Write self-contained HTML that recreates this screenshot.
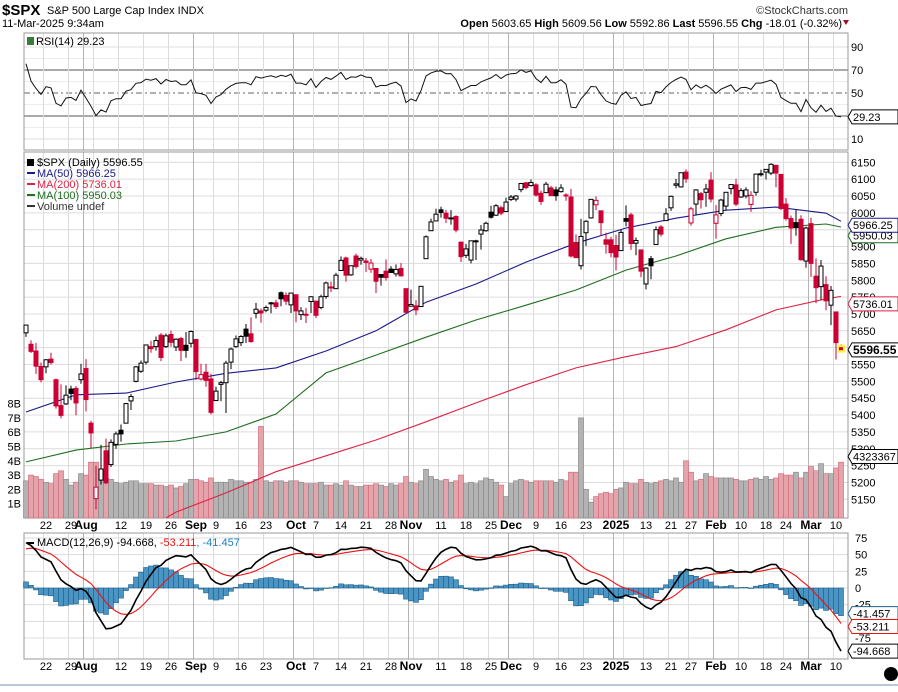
<!DOCTYPE html>
<html><head><meta charset="utf-8">
<style>
body{margin:0;background:#fff;width:898px;height:687px;overflow:hidden;font-family:"Liberation Sans",Arial,sans-serif;}
svg text{font-family:"Liberation Sans",Arial,sans-serif;}
</style></head>
<body>
<svg id="chart" width="898" height="687" viewBox="0 0 898 687" xmlns="http://www.w3.org/2000/svg">
<rect x="0" y="0" width="898" height="687" fill="#fff"/>
<text x="2" y="15" font-size="15" font-weight="bold" fill="#000">$SPX</text>
<text x="47" y="14" font-size="11" fill="#000">S&amp;P 500 Large Cap Index  INDX</text>
<text x="2" y="27" font-size="11" fill="#000">11-Mar-2025 9:34am</text>
<text x="848" y="14" font-size="11" fill="#333" text-anchor="end">©StockCharts.com</text>
<text x="842" y="27" font-size="11" fill="#000" text-anchor="end"><tspan font-weight="bold">Open</tspan> 5603.65  <tspan font-weight="bold">High</tspan> 5609.56  <tspan font-weight="bold">Low</tspan> 5592.86  <tspan font-weight="bold">Last</tspan> 5596.55  <tspan font-weight="bold">Chg</tspan> -18.01 (-0.32%)</text>
<polygon points="843,20 849,20 846,25" fill="#a0102a"/>
<g id="grid"></g>
<g id="panels"></g>
<g id="marks"></g>
<g id="labels"></g>
<circle cx="891" cy="674" r="7" fill="#000"/>
<line x1="0" y1="685" x2="898" y2="685" stroke="#b8c8d8" stroke-width="2"/>
</svg>
<script>
// ---- data ----
const warmupCloses=[5308,5321,5307,5267,5305,5306,5267,5235,5278,5283,5291,5354,5352,5347,5361,5375,5421,5433,5431,5473,5487,5473,5464,5448,5469,5478,5482,5460,5475,5509,5537,5567,5572,5577,5633,5585,5615,5631];
const opens=[5644,5610,5590,5544,5543,5566,5505,5428,5433,5477,5479,5505,
5538,5376,5152,5207,5294,5253,5313,5355,5376,5442,5500,5530,5557,5603,5603,5637,5603,5639,5602,5627,5607,5613,
5624,5507,5527,5507,5443,5491,5496,5557,5603,5615,5655,5641,5702,5709,5711,5733,5733,5763,5755,5727,
5757,5698,5699,5737,5738,5719,5752,5778,5775,5829,5866,5816,5872,5860,5857,5833,5835,5817,5827,5833,5819,5835,5775,
5723,5724,5722,5864,5947,5976,6009,5999,5985,5989,5913,5874,5860,5917,5937,5947,6002,5993,6015,6004,
6040,6041,6069,6089,6081,6083,6058,6060,6074,6068,6063,6053,6047,5912,5843,5941,5985,6024,6006,5920,5920,
5903,5888,5983,5994,5910,5890,5789,5864,5906,5958,5977,6015,6082,6077,6121,5970,6026,6057,6061,6097,
5969,5998,6020,6072,6083,6047,6050,6025,6061,6116,6121,6118,6141,6114,6026,5983,5971,5981,5857,
5968,5812,5781,5787,5726,5706,5603];
const highs=[5667,5622,5614,5556,5566,5585,5508,5491,5488,5487,5486,5552,
5566,5383,5250,5312,5330,5328,5351,5372,5436,5463,5546,5562,5608,5620,5633,5643,5642,5651,5628,5632,5646,5651,
5626,5552,5552,5523,5484,5501,5561,5600,5636,5637,5670,5690,5733,5716,5725,5736,5742,5767,5764,5763,
5758,5720,5718,5753,5739,5757,5796,5796,5822,5871,5870,5843,5879,5870,5866,5863,5836,5817,5862,5842,5847,5851,5775,
5772,5741,5783,5933,5983,6012,6018,6009,6008,5993,5915,5908,5918,5920,5964,5974,6021,6026,6021,6045,
6053,6053,6089,6092,6099,6088,6066,6092,6080,6078,6085,6058,6071,5936,5982,5978,6040,6049,6007,5941,5929,
5935,5949,6022,6000,5927,5890,5839,5872,5960,5964,6014,6051,6101,6119,6129,6018,6070,6062,6086,6121,
6023,6042,6062,6084,6101,6073,6076,6064,6116,6128,6130,6147,6142,6114,6044,5992,6009,5993,5959,
5986,5865,5860,5812,5783,5706,5610];
const lows=[5632,5584,5522,5497,5524,5550,5419,5390,5430,5444,5399,5493,
5411,5302,5120,5194,5195,5246,5300,5321,5376,5415,5497,5525,5550,5585,5591,5560,5599,5603,5590,5560,5570,5601,
5504,5503,5484,5402,5442,5441,5406,5536,5600,5605,5614,5615,5687,5674,5705,5702,5715,5723,5727,5703,
5675,5682,5673,5703,5688,5714,5745,5765,5775,5829,5796,5813,5835,5846,5824,5822,5762,5784,5799,5823,5811,5811,5703,
5723,5696,5722,5864,5947,5976,5986,5970,5965,5942,5854,5866,5850,5860,5891,5944,5983,5991,5993,6003,
6035,6034,6061,6070,6078,6048,6024,6058,6050,6036,6060,6036,5867,5866,5832,5902,5983,6008,5932,5879,5868,
5829,5888,5960,5890,5874,5809,5773,5803,5906,5930,5977,6006,6073,6075,6089,5962,5994,6013,6018,6031,
5923,5990,6007,6055,6020,6044,6043,6003,6051,6108,6099,6112,6076,6008,5977,5908,5932,5858,5837,
5810,5732,5742,5711,5667,5565,5593];
const closes=[5667,5589,5545,5505,5564,5556,5427,5399,5459,5464,5436,5522,
5446,5347,5186,5240,5199,5319,5344,5344,5434,5455,5543,5554,5608,5597,5621,5571,5635,5616,5625,5592,5592,5648,
5529,5520,5503,5408,5471,5496,5554,5596,5626,5633,5634,5618,5714,5703,5719,5732,5722,5745,5738,5762,
5709,5709,5699,5751,5696,5751,5792,5780,5815,5859,5815,5843,5841,5865,5853,5851,5797,5809,5808,5823,5832,5813,5705,
5728,5712,5782,5929,5973,5996,6001,5984,5985,5949,5870,5893,5917,5917,5949,5969,5987,6021,5999,6032,
6047,6050,6087,6075,6090,6053,6034,6085,6051,6051,6074,6051,5872,5867,5930,5975,6040,6037,5971,5907,5882,
5869,5942,5975,5909,5918,5827,5836,5843,5950,5937,5997,6049,6086,6119,6101,6012,6068,6039,6071,6041,
5994,6038,6061,6084,6026,6066,6068,6052,6115,6115,6129,6144,6118,6013,5983,5955,5956,5861,5955,
5850,5778,5842,5739,5770,5615,5597];
const volumes=[2.6,3.0,2.9,2.7,2.5,2.4,3.1,3.3,2.7,2.3,2.5,3.1,
3.0,3.9,3.9,3.0,2.8,2.7,2.5,2.4,2.5,2.6,2.6,2.4,2.4,2.4,2.3,2.3,2.2,2.3,2.1,2.2,2.4,2.7,
2.7,2.6,2.5,2.8,2.5,2.5,2.5,2.7,2.6,2.6,2.5,2.5,2.7,6.4,2.6,2.5,2.6,2.6,2.5,2.6,
2.6,2.5,2.4,2.4,2.4,2.5,2.3,2.3,2.4,2.3,2.6,2.3,2.2,2.2,2.3,2.3,2.4,2.3,2.2,2.4,2.3,2.4,2.9,
2.5,2.4,2.6,3.4,2.9,2.7,2.6,2.7,2.5,2.6,3.0,2.4,2.5,2.4,2.6,2.8,2.7,2.5,2.3,1.5,
2.4,2.6,2.7,2.6,2.5,2.6,2.6,2.6,2.6,2.5,2.7,2.6,3.2,3.2,7.0,2.0,1.1,1.5,1.7,1.8,1.7,
2.0,2.1,2.5,2.4,2.4,2.7,2.5,2.4,2.5,2.6,2.7,2.6,2.8,2.5,4.0,3.2,2.6,2.7,3.1,2.9,
2.8,2.8,2.8,2.8,2.7,2.6,2.6,2.7,2.8,2.7,2.9,2.7,2.8,3.1,3.0,3.0,3.2,2.8,3.2,
3.6,3.3,3.8,3.1,3.1,3.5,3.9];
const maIdx=[0,10,20,30,40,50,60,70,80,90,100,110,120,130,140,150,160,163];
const ma50=[5409,5460,5465,5498,5524,5540,5590,5650,5735,5789,5854,5910,5955,5984,6008,6017,5999,5975];
const ma100=[5261,5296,5314,5323,5350,5403,5525,5578,5631,5682,5726,5771,5830,5872,5923,5957,5967,5958];
const ma200Idx=[28,30,40,50,60,70,80,90,100,110,120,130,140,150,160,163];
const ma200=[5095,5112,5169,5232,5279,5326,5380,5436,5490,5540,5573,5603,5653,5712,5745,5752];
const dateLabels=["22","29","Aug","12","19","26","Sep","9","16","23","Oct","7","14","21","28","Nov","11","18","25","Dec","9","16","23","2025","13","21","27","Feb","10","18","24","Mar","10"];
const dateIdx=[4,9,12,19,24,29,34,38,43,48,54,58,63,68,73,77,83,88,93,97,102,107,112,118,124,129,133,138,143,148,152,157,162];
const monthLabels=["Aug","Sep","Oct","Nov","Dec","2025","Feb","Mar"];
const extraWeekIdx=[14,78,120];
const priceTicks=[5150,5200,5250,5300,5350,5400,5450,5500,5550,5600,5650,5700,5750,5800,5850,5900,5950,6000,6050,6100,6150];
const volTicks=[1,2,3,4,5,6,7,8];
const rsiTicks=[90,70,50,30,10];
const macdTicks=[75,50,25,0,-25,-50,-75];

// ---- scales ----
const X0=24,X1=848;
const xOf=i=>26+5*i;
const yP=p=>162.3+(6150-p)*0.337;
const yV=v=>518-v*14.3;
const yR=r=>70+(70-r)*1.15;
const yM=m=>588-m*0.667;

const NS="http://www.w3.org/2000/svg";
function mk(tag,attrs,parent,text){const e=document.createElementNS(NS,tag);for(const k in attrs)e.setAttribute(k,attrs[k]);if(text!==undefined)e.textContent=text;parent.appendChild(e);return e;}
const G=document.getElementById('grid'),P=document.getElementById('panels'),M=document.getElementById('marks'),L=document.getElementById('labels');

// ---- indicators from closes ----
const all=warmupCloses.concat(closes);const W=warmupCloses.length;
let ag=0,al=0;const rsiAll=[];
for(let i=1;i<all.length;i++){const d=all[i]-all[i-1];const g=d>0?d:0,l=d<0?-d:0;
 if(i<=14){ag+=g/14;al+=l/14;}else{ag=(ag*13+g)/14;al=(al*13+l)/14;}
 rsiAll[i]=al===0?100:100-100/(1+ag/al);}
const rsi=closes.map((c,i)=>rsiAll[W+i]);
let e12=all[0],e26=all[0];const macdAll=[];
all.forEach((c,i)=>{e12=e12+(c-e12)*2/13;e26=e26+(c-e26)*2/27;macdAll[i]=e12-e26;});
let sg=macdAll[0];const sigAll=[];
macdAll.forEach((m,i)=>{sg=sg+(m-sg)*0.2;sigAll[i]=sg;});
const macd=closes.map((c,i)=>macdAll[W+i]);
const signal=closes.map((c,i)=>sigAll[W+i]);
const hist=macd.map((m,i)=>m-signal[i]);

// ---- panel frames & grids ----
const panels=[["rsi-panel",33,150],["price-panel",152,518],["macd-panel",533,659]];
function vgrid(top,bot){
 const weeks=dateIdx.concat(extraWeekIdx);
 weeks.forEach((idx,k)=>{const isMonth=k<dateIdx.length&&monthLabels.includes(dateLabels[k]);
  const ln=mk('line',{x1:xOf(idx)-2.5,x2:xOf(idx)-2.5,y1:top,y2:bot,stroke:isMonth?'#b4b4b4':'#dcdcdc','stroke-width':1},G);
  
  });
}
// RSI grid
rsiTicks.forEach(t=>{const y=yR(t);
 const ln=mk('line',{x1:X0,x2:X1,y1:y,y2:y,stroke:(t===70||t===30)?'#555':(t===50?'#666':'#dcdcdc'),'stroke-width':1,'stroke-dasharray':t===50?'6,3,2,3':'none'},G);
 
 
 if(t!==30){const tx=mk('text',{x:851,y:y+4,'font-size':11,fill:'#000'},L,String(t));
 
 }
});
[80,60,40,20].forEach(t=>{const ln=mk('line',{x1:X0,x2:X1,y1:yR(t),y2:yR(t),stroke:'#ececec'},G);
 
 });
vgrid(33,150);
// price grid
priceTicks.forEach(t=>{const y=yP(t);
 const ln=mk('line',{x1:X0,x2:X1,y1:y,y2:y,stroke:'#dcdcdc'},G);
 
 
 const tx=mk('text',{x:851,y:y+4,'font-size':11,fill:'#000'},L,String(t));
 
 
});
vgrid(152,518);
volTicks.forEach(t=>{const tx=mk('text',{x:21,y:yV(t)+4,'font-size':11,fill:'#000','text-anchor':'end'},L,t+'B');
 
 });
// macd grid
macdTicks.forEach(t=>{const y=yM(t);
 const ln=mk('line',{x1:X0,x2:X1,y1:y,y2:y,stroke:'#dcdcdc'},G);
 
 
 if(t!==-50){const tx=mk('text',{x:855,y:y+4,'font-size':11,fill:'#000'},L,String(t));
 
 }
});
vgrid(533,659);
panels.forEach(([n,t,b])=>{const r=mk('rect',{x:X0,y:t,width:X1-X0,height:b-t,fill:'none',stroke:'#999','stroke-width':1},P);
 
 });

// date axes
[525,666].forEach((yy,row)=>{dateLabels.forEach((lab,k)=>{const isM=monthLabels.includes(lab);
 const tx=mk('text',{x:xOf(dateIdx[k]),y:yy+4,'font-size':isM?12:11,'font-weight':isM?'bold':'normal',fill:'#000','text-anchor':'middle'},L,lab);
 
 });});

// ---- volume ----
volumes.forEach((v,i)=>{const down=i>0&&closes[i]<closes[i-1];
 const r=mk('rect',{x:xOf(i)-2.5,y:yV(v),width:5,height:518-yV(v),fill:down?'#e5a4ac':'#b3b3b3',stroke:down?'#d0707e':'#8c8c8c','stroke-width':0.7},M);
 
 });

// ---- moving averages ----
function maLine(idx,vals,color,name){const pts=idx.map((ix,k)=>xOf(ix)+','+yP(vals[k]).toFixed(1)).join(' ');
 const pl=mk('polyline',{points:pts,fill:'none',stroke:color,'stroke-width':1.1},M);
 
 }
maLine(ma200Idx,ma200,'#dd2244','ma200-line');
maLine(maIdx,ma100,'#1f6e1f','ma100-line');
maLine(maIdx,ma50,'#1a1a8c','ma50-line');

// ---- candles ----
closes.forEach((c,i)=>{const o=opens[i],h=highs[i],lo=lows[i];
 const down=i>0&&c<closes[i-1];const col=down?'#cc0033':'#000';
 const x=xOf(i);
 const w=mk('line',{x1:x,x2:x,y1:yP(h),y2:yP(lo),stroke:col,'stroke-width':1},M);
 
 
 const top=yP(Math.max(o,c)),bh=Math.max(1,Math.abs(yP(o)-yP(c)));
 const b=mk('rect',{x:x-2,y:top,width:4,height:bh,fill:c<o?col:'#fff',stroke:col,'stroke-width':1},M);
 
 });
const last=closes.length-1;
const hl=mk('rect',{x:xOf(last)-3,y:yP(closes[last])-4,width:7,height:8,fill:'#ffee44'},M);


const lc=mk('rect',{x:xOf(last)-2,y:yP(closes[last])-1.5,width:4,height:3,fill:'#cc0033'},M);



// ---- RSI line ----
const rsiLine=mk('polyline',{points:rsi.map((r,i)=>xOf(i)+','+yR(r).toFixed(1)).join(' '),fill:'none',stroke:'#111','stroke-width':1},M);



// ---- MACD ----
hist.forEach((h,i)=>{const y0=yM(0),y1=yM(h);
 const r=mk('rect',{x:xOf(i)-2.5,y:Math.min(y0,y1),width:5,height:Math.max(0.5,Math.abs(y1-y0)),fill:'#4a95c4',stroke:'#1e5f8c','stroke-width':0.6},M);
 
 });
const sl=mk('polyline',{points:signal.map((s,i)=>xOf(i)+','+yM(s).toFixed(1)).join(' '),fill:'none',stroke:'#ee1111','stroke-width':1.1},M);


const ml=mk('polyline',{points:macd.map((s,i)=>xOf(i)+','+yM(s).toFixed(1)).join(' '),fill:'none',stroke:'#000','stroke-width':1.6},M);



// ---- value tags on right axis ----
function tag(y,text,color,bold,name){const g=mk('g',{},L);
 
 
 const w=bold?47:46;
 mk('polygon',{points:`848,${y} 852,${y-7} ${852+w},${y-7} ${852+w},${y+7} 852,${y+7}`,fill:'#fff',stroke:color,'stroke-width':1},g);
 mk('text',{x:853,y:y+4,'font-size':bold?12:11,'font-weight':bold?'bold':'normal',fill:'#000'},g,text);}
tag(yR(29.23),'29.23','#000',false,'rsi-value-tag');
tag(yP(5950.03)+6,'5950.03','#1f6e1f',false,'ma100-value-tag');
tag(yP(5966.25)+1,'5966.25','#1a1a8c',false,'ma50-value-tag');
tag(yP(5736.01)+2,'5736.01','#dd2244',false,'ma200-value-tag');
tag(yP(5596.55)+1,'5596.55','#000',true,'price-value-tag');
tag(yV(4.3),'4323367','#000',false,'volume-value-tag');
tag(yM(-41.457)-2,'-41.457','#1e5f8c',false,'histogram-value-tag');
tag(yM(-53.211)+3,'-53.211','#ee1111',false,'signal-value-tag');
tag(yM(-94.668),'-94.668','#000',false,'macd-value-tag');

// ---- legends ----
function legendText(x,y,parts,name){const t=mk('text',{x:x,y:y,'font-size':11,fill:'#000'},L);
 
 
 parts.forEach(([s,c])=>{const sp=mk('tspan',{fill:c},t,s);});}
mk('rect',{x:27,y:37,width:7,height:8,fill:'#3a7a3a'},L);
legendText(36,45,[['RSI(14) 29.23','#000']],'rsi-legend');
legendText(37,166,[['$SPX (Daily) 5596.55','#000']],'price-legend');
mk('rect',{x:27,y:159,width:7,height:7,fill:'#000'},L);
[['MA(50) 5966.25','#1a1a8c',177,'ma50-legend'],['MA(200) 5736.01','#dd2244',188,'ma200-legend'],['MA(100) 5950.03','#1f6e1f',199,'ma100-legend'],['Volume undef','#333',210,'volume-legend']].forEach(([s,c,y,n])=>{
 mk('rect',{x:27,y:y-5,width:8,height:2,fill:c},L);
 legendText(37,y,[[s,c]],n);});
mk('rect',{x:27,y:542,width:7,height:2,fill:'#000'},L);
legendText(37,546,[['MACD(12,26,9) -94.668, ','#000'],['-53.211','#ee1111'],[', -41.457','#1e7fc0']],'macd-legend');
</script>
</body></html>
